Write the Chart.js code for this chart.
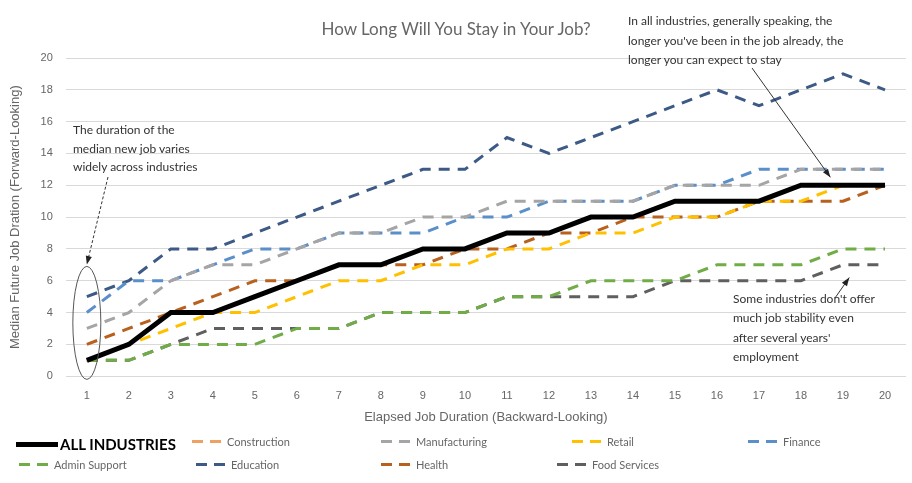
<!DOCTYPE html>
<html>
<head>
    <title>How Long Will You Stay in Your Job?</title>
    <script src="https://cdn.jsdelivr.net/npm/chart.js"></script>
    <style>
        body {
            margin: 0;
            background: #fff;
            font-family: Lato, 'Open Sans', sans-serif;
        }

        .wrap {
            position: relative;
            width: 912px;
            height: 483px;
        }

        .title {
            position: absolute;
            left: 0;
            width: 912px;
            top: 18px;
            text-align: center;
            font-size: 17px;
            color: #666;
        }

        .note {
            position: absolute;
            font-size: 12px;
            color: #333;
            line-height: 18.5px;
            white-space: nowrap;
        }

        .legend-item {
            position: absolute;
            display: flex;
            align-items: center;
            font-size: 11px;
            color: #666;
            white-space: nowrap;
        }

        .legend-item .sw {
            display: inline-block;
            width: 29px;
            height: 3px;
            margin-right: 6px;
        }

        .legend-item.main {
            font-size: 15px;
            font-weight: bold;
            color: #000;
        }
    </style>
</head>
<body>
<div class="wrap">
    <canvas id="jobChart" width="912" height="483"></canvas>
    <div class="title">How Long Will You Stay in Your Job?</div>
    <div class="note" style="left:73px;top:121px;">The duration of the<br>median new job varies<br>widely across industries</div>
    <div class="note" style="left:628px;top:11px;line-height:19.5px;">In all industries, generally speaking, the<br>longer you've been in the job already, the<br>longer you can expect to stay</div>
    <div class="note" style="left:733px;top:289px;line-height:19.3px;">Some industries don't offer<br>much job stability even<br>after several years'<br>employment</div>
    <div id="legend"></div>
</div>

<script>
    // elapsed years
    const years = ['1','2','3','4','5','6','7','8','9','10','11','12','13','14','15','16','17','18','19','20'];

    // median future duration
    const allIndustries = [1,2,4,4,5,6,7,7,8,8,9,9,10,10,11,11,11,12,12,12];
    const construction  = [1,2,4,4,5,6,7,7,8,8,9,9,10,10,11,11,11,12,12,12];
    const manufacturing = [3,4,6,7,7,8,9,9,10,10,11,11,11,11,12,12,12,13,13,13];
    const retail        = [1,2,3,4,4,5,6,6,7,7,8,8,9,9,10,10,11,11,12,12];
    const finance       = [4,6,6,7,8,8,9,9,9,10,10,11,11,11,12,12,13,13,13,13];
    const adminSupport  = [1,1,2,2,2,3,3,4,4,4,5,5,6,6,6,7,7,7,8,8];
    const education     = [5,6,8,8,9,10,11,12,13,13,15,14,15,16,17,18,17,18,19,18];
    const health        = [2,3,4,5,6,6,7,7,7,8,8,9,9,10,10,10,11,11,11,12];
    const foodServices  = [1,1,2,3,3,3,3,4,4,4,5,5,5,5,6,6,6,6,7,7];

    const yTicks = [0,2,4,6,8,10,12,14,16,18,20];

    const seriesNames  = ['ALL INDUSTRIES','Construction','Manufacturing','Retail','Finance','Admin Support','Education','Health','Food Services'];
    const seriesData   = [allIndustries, construction, manufacturing, retail, finance, adminSupport, education, health, foodServices];
    const seriesColors = ['#000000','#f0a060','#a5a5a5','#ffc000','#5b8fc9','#70ad47','#3c5a85','#b8601e','#5f5f5f'];

    // legend placement (row, left px)
    const legendPos = [[0,16],[0,192],[0,381],[0,572],[0,748],[1,19],[1,196],[1,381],[1,557]];

    const datasets = seriesNames.map((name, i) => ({
        label: name,
        data: seriesData[i],
        borderColor: seriesColors[i],
        backgroundColor: seriesColors[i],
        borderWidth: i === 0 ? 5 : 3,
        borderDash: i === 0 ? [] : [11, 8],
        pointRadius: 0,
        tension: 0,
        fill: false
    }));

    // arrows, ellipse
    const notesPlugin = {
        id: 'notes',
        afterDatasetsDraw(chart) {
            const ctx = chart.ctx;
            const x = chart.scales.x, y = chart.scales.y;

            function arrow(x1, y1, x2, y2, dash) {
                ctx.save();
                ctx.strokeStyle = '#333';
                ctx.fillStyle = '#222';
                ctx.lineWidth = 1;
                ctx.setLineDash(dash || []);
                ctx.beginPath();
                ctx.moveTo(x1, y1);
                ctx.lineTo(x2, y2);
                ctx.stroke();
                ctx.setLineDash([]);
                const a = Math.atan2(y2 - y1, x2 - x1);
                ctx.beginPath();
                ctx.moveTo(x2, y2);
                ctx.lineTo(x2 - 9 * Math.cos(a - 0.35), y2 - 9 * Math.sin(a - 0.35));
                ctx.lineTo(x2 - 9 * Math.cos(a + 0.35), y2 - 9 * Math.sin(a + 0.35));
                ctx.closePath();
                ctx.fill();
                ctx.restore();
            }

            // ellipse around the first year
            const cx = x.getPixelForValue(0);
            const top = y.getPixelForValue(6.9), bot = y.getPixelForValue(-0.2);
            ctx.save();
            ctx.strokeStyle = '#555';
            ctx.lineWidth = 1;
            ctx.beginPath();
            ctx.ellipse(cx, (top + bot) / 2, 14, (bot - top) / 2, 0, 0, Math.PI * 2);
            ctx.stroke();
            ctx.restore();

            arrow(108, 177, cx, top - 2, [3, 2]);
            arrow(752, 68, x.getPixelForValue(17.7), y.getPixelForValue(12.5));
            arrow(835, 298, x.getPixelForValue(18.15), y.getPixelForValue(6.2));
        }
    };

    new Chart(document.getElementById('jobChart'), {
        type: 'line',
        data: { labels: years, datasets: datasets },
        plugins: [notesPlugin],
        options: {
            responsive: false,
            animation: false,
            devicePixelRatio: 1,
            layout: { padding: { top: 58, right: 6, bottom: 54, left: 4 } },
            plugins: {
                legend: { display: false },
                tooltip: { enabled: false }
            },
            scales: {
                x: {
                    offset: true,
                    grid: { display: false },
                    border: { display: false },
                    ticks: { color: '#666', font: { size: 11 }, maxRotation: 0, padding: 5 },
                    title: { display: true, text: 'Elapsed Job Duration (Backward-Looking)', color: '#666', font: { size: 13 }, padding: { top: 2 } }
                },
                y: {
                    min: 0,
                    max: 20,
                    afterBuildTicks: axis => { axis.ticks = yTicks.map(v => ({ value: v })); },
                    grid: { color: '#d9d9d9', drawTicks: false },
                    border: { display: false },
                    ticks: { color: '#666', font: { size: 11 }, padding: 13 },
                    title: { display: true, text: 'Median Future Job Dration (Forward-Looking)', color: '#666', font: { size: 13 } }
                }
            }
        }
    });

    // html legend
    const legend = document.getElementById('legend');
    seriesNames.forEach((name, i) => {
        const item = document.createElement('div');
        item.className = 'legend-item' + (i === 0 ? ' main' : '');
        const [row, left] = legendPos[i];
        item.style.left = left + 'px';
        item.style.top = (row === 0 ? 435 : 458) + 'px';
        const sw = document.createElement('span');
        sw.className = 'sw';
        if (i === 0) {
            sw.style.width = '42px';
            sw.style.height = '5px';
            sw.style.marginRight = '2px';
            sw.style.background = seriesColors[i];
        } else {
            sw.style.background = 'repeating-linear-gradient(90deg,' + seriesColors[i] + ' 0 11px, transparent 11px 18px)';
        }
        item.appendChild(sw);
        item.appendChild(document.createTextNode(name));
        legend.appendChild(item);
    });
</script>
</body>
</html>
